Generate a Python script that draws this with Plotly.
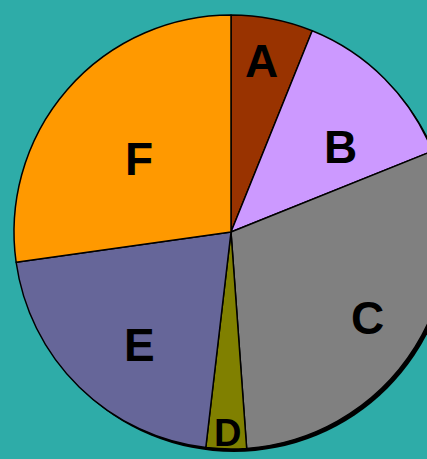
import plotly.graph_objects as go

labels = ["A", "B", "C", "D", "E", "F"]
values = [6.1, 12.8, 29.9, 3.0, 20.9, 27.2]
colors = ["#993300", "#CC99FF", "#808080", "#808000", "#666699", "#FF9900"]

# label spots in pixels (x, y from top)
label_px = [(261, 61), (340, 147), (367, 318), (227, 433), (139, 345), (139, 159)]
label_size = [46, 46, 46, 38, 46, 46]

# the pie runs off the right edge of the window, so the figure is wider
W, H = 460, 459
cx, cy, r = 231, 232, 217
sh = 3  # shadow offset


def dom(x0, y0):
    # pixel box -> paper domain
    return dict(x=[(x0 - r) / W, (x0 + r) / W],
                y=[(H - (y0 + r)) / H, (H - (y0 - r)) / H])


fig = go.Figure()

# dark drop shadow under the pie
fig.add_trace(go.Pie(
    values=[sum(values)],
    marker=dict(colors=["#000000"], line=dict(width=0)),
    textinfo="none", hoverinfo="skip", showlegend=False, sort=False,
    domain=dom(cx + sh, cy + sh),
))

fig.add_trace(go.Pie(
    labels=labels,
    values=values,
    sort=False,
    direction="clockwise",
    rotation=0,
    marker=dict(colors=colors, line=dict(color="#000000", width=1.5)),
    textinfo="none",
    showlegend=False,
    domain=dom(cx, cy),
))

for lab, (px, py), sz in zip(labels, label_px, label_size):
    fig.add_annotation(
        x=px / W, y=1 - py / H, xref="paper", yref="paper",
        xanchor="center", yanchor="middle",
        text="<b>%s</b>" % lab, showarrow=False,
        font=dict(family="Liberation Sans, Arial", size=sz, color="#000000"),
    )

fig.update_layout(
    width=W, height=H,
    margin=dict(l=0, r=0, t=0, b=0),
    paper_bgcolor="#2EACA8",
    plot_bgcolor="#2EACA8",
)

fig.write_html("out.html",
               config={"displayModeBar": False},
               post_script="document.body.style.margin='0px';"
                           "document.body.style.overflow='hidden';")
